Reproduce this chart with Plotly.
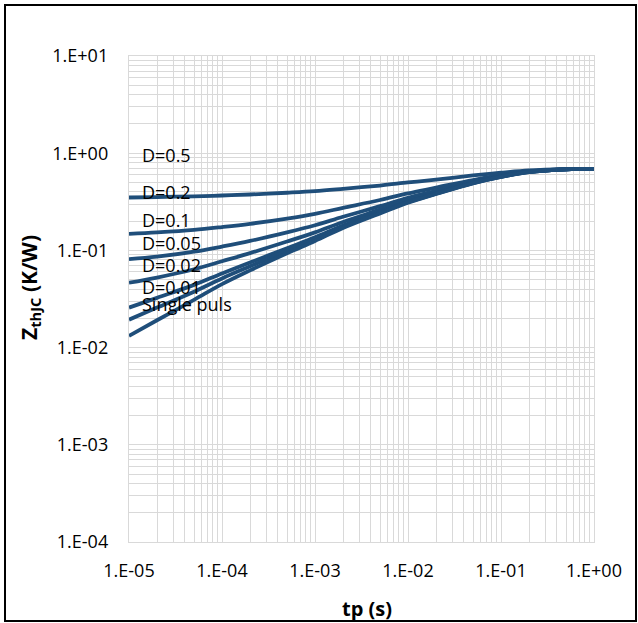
import math
import plotly.graph_objects as go

# pulse duration tp (s)
tp = [1e-5, 2e-5, 5e-5, 1e-4, 2e-4, 5e-4, 1e-3, 2e-3, 5e-3,
      1e-2, 2e-2, 5e-2, 1e-1, 2e-1, 5e-1, 1.0]

# Z_thJC (K/W)
z_d05 = [0.350, 0.354, 0.360, 0.367, 0.376, 0.392, 0.407, 0.430, 0.465,
         0.500, 0.535, 0.590, 0.630, 0.665, 0.686, 0.690]
z_d02 = [0.1480, 0.1533, 0.1628, 0.174, 0.1878, 0.2128, 0.238, 0.274, 0.330,
         0.386, 0.442, 0.530, 0.594, 0.650, 0.684, 0.690]
z_d01 = [0.0812, 0.0862, 0.0969, 0.1095, 0.1251, 0.1532, 0.1815, 0.222, 0.285,
         0.348, 0.411, 0.510, 0.582, 0.645, 0.684, 0.690]
z_d005 = [0.0465, 0.0526, 0.0640, 0.0773, 0.0937, 0.1233, 0.1533, 0.196, 0.2625,
          0.329, 0.3955, 0.500, 0.576, 0.6425, 0.683, 0.690]
z_d002 = [0.0258, 0.0325, 0.0442, 0.0579, 0.0749, 0.1054, 0.1363, 0.1804, 0.249,
          0.3176, 0.386, 0.494, 0.5724, 0.641, 0.683, 0.690]
z_d001 = [0.0194, 0.0258, 0.0376, 0.0515, 0.0686, 0.0995, 0.1307, 0.1752, 0.2445,
          0.3138, 0.3831, 0.492, 0.5712, 0.6405, 0.683, 0.690]
z_single = [0.0132, 0.0191, 0.0310, 0.045, 0.0623, 0.0935, 0.125, 0.170, 0.240,
            0.310, 0.380, 0.490, 0.570, 0.640, 0.683, 0.690]

series = [z_d05, z_d02, z_d01, z_d005, z_d002, z_d001, z_single]
series_names = ["D=0.5", "D=0.2", "D=0.1", "D=0.05", "D=0.02", "D=0.01", "Single puls"]

# text labels placed on the chart (as in the original)
label_texts = ["D=0.5", "D=0.2", "D=0.1", "D=0.05", "D=0.02", "D=0.01", "Single puls"]
label_x = [1.32e-5] * 7
label_y = [0.958, 0.399, 0.2055, 0.119, 0.0708, 0.042, 0.0281]

x_tickvals = [1e-5, 1e-4, 1e-3, 1e-2, 1e-1, 1e0]
x_ticktext = ["1.E-05", "1.E-04", "1.E-03", "1.E-02", "1.E-01", "1.E+00"]
y_tickvals = [1e-4, 1e-3, 1e-2, 1e-1, 1e0, 1e1]
y_ticktext = ["1.E-04", "1.E-03", "1.E-02", "1.E-01", "1.E+00", "1.E+01"]

def minor_vals(lo, hi):
    vals = []
    for e in range(lo, hi):
        for k in range(2, 10):
            vals.append(k * 10.0 ** e)
    return vals

LINE = "#1f4e7a"
GRID = "#d9d9d9"
FONT = "Open Sans"

fig = go.Figure()
for name, ys in zip(series_names, series):
    fig.add_trace(go.Scatter(x=tp, y=ys, mode="lines", name=name,
                             line=dict(color=LINE, width=3.8, shape="spline")))

for t, xv, yv in zip(label_texts, label_x, label_y):
    fig.add_annotation(x=math.log10(xv), y=math.log10(yv), xref="x", yref="y",
                       text=t, showarrow=False,
                       xanchor="left", yanchor="middle",
                       font=dict(family=FONT, size=18, color="#000000"))

axis_common = dict(type="log", showgrid=True, gridcolor=GRID, gridwidth=1.4,
                   showline=True, linecolor=GRID, linewidth=1.4, mirror=True,
                   ticks="", zeroline=False,
                   tickfont=dict(family=FONT, size=18, color="#000000"))

fig.update_xaxes(range=[-5, 0], tickmode="array", tickvals=x_tickvals,
                 ticktext=x_ticktext, ticklabelstandoff=12,
                 minor=dict(tickmode="array", tickvals=minor_vals(-5, 0),
                            showgrid=True, gridcolor=GRID, gridwidth=1.4, ticks=""),
                 **axis_common)
fig.update_yaxes(range=[-4, 1], tickmode="array", tickvals=y_tickvals,
                 ticktext=y_ticktext, ticklabelstandoff=16,
                 minor=dict(tickmode="array", tickvals=minor_vals(-4, 1),
                            showgrid=True, gridcolor=GRID, gridwidth=1.4, ticks=""),
                 **axis_common)

# axis titles
fig.add_annotation(x=(367 - 129) / 465, y=(542 - 608) / 486, xref="paper", yref="paper",
                   text="<b>tp (s)</b>", showarrow=False, xanchor="center", yanchor="middle",
                   font=dict(family=FONT, size=20, color="#000000"))
fig.add_annotation(x=(30 - 129) / 465, y=(542 - 288) / 486, xref="paper", yref="paper",
                   text="<b>Z<sub>thJC</sub> (K/W)</b>", showarrow=False, textangle=-90,
                   xanchor="center", yanchor="middle",
                   font=dict(family=FONT, size=21, color="#000000"))

# outer chart border
fig.add_shape(type="rect", xref="paper", yref="paper",
              x0=(5 - 129) / 465, x1=(636 - 129) / 465,
              y0=(542 - 621) / 486, y1=(542 - 5) / 486,
              line=dict(color="#000000", width=2), fillcolor="rgba(0,0,0,0)", layer="above")

fig.update_layout(width=638, height=623, showlegend=False,
                  margin=dict(l=129, r=44, t=56, b=81),
                  paper_bgcolor="white", plot_bgcolor="white",
                  font=dict(family=FONT, color="#000000"))

fig.write_html("out.html", config={"displayModeBar": False},
               post_script="document.body.style.margin='0';document.body.style.overflow='hidden';")
